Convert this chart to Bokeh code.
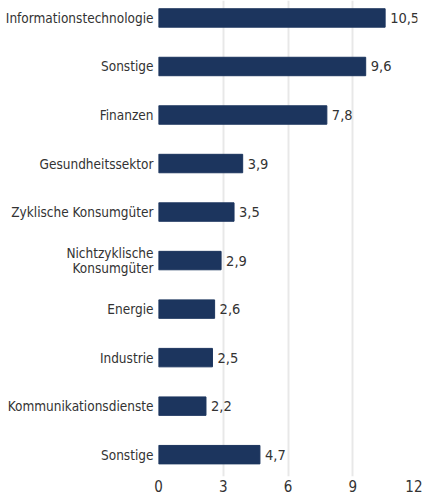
from bokeh.plotting import figure
from bokeh.models import Range1d, FixedTicker, ColumnDataSource
from bokeh.embed import file_html
from bokeh.resources import INLINE
from bokeh.core.properties import value

categories = ["Informationstechnologie", "Sonstige", "Finanzen", "Gesundheitssektor",
              "Zyklische Konsumgüter", "Nichtzyklische\nKonsumgüter", "Energie",
              "Industrie", "Kommunikationsdienste", "Sonstige"]
values = [10.5, 9.6, 7.8, 3.9, 3.5, 2.9, 2.6, 2.5, 2.2, 4.7]
x_ticks = [0, 3, 6, 9, 12]

FONT = "DejaVu Sans Condensed"
BAR = "#1c355e"
TXT = "#333333"

pos = list(range(len(categories)))
labels = [f"{v:.1f}".replace(".", ",") for v in values]
src = ColumnDataSource(dict(y=pos, v=values, lab=labels))

p = figure(width=422, height=502, output_backend="svg", toolbar_location=None,
           x_range=Range1d(0, 12), y_range=Range1d(9.45, -0.36),
           min_border_left=158, min_border_right=5, min_border_top=0, min_border_bottom=26)

p.hbar(y="y", right="v", left=0, height=0.38, source=src, color=BAR)
p.text(x="v", y="y", text="lab", source=src, x_offset=5, text_baseline="middle",
       text_align="left", text_font=value(FONT), text_font_size="14.5px", text_color=TXT)

p.outline_line_color = None
p.ygrid.grid_line_color = None
p.xgrid.grid_line_color = "#e8e8e8"
p.xgrid.grid_line_width = 2
p.xaxis.ticker = FixedTicker(ticks=x_ticks)
p.yaxis.ticker = FixedTicker(ticks=pos)
p.yaxis.major_label_overrides = {i: c for i, c in zip(pos, categories)}
for ax in (p.xaxis, p.yaxis):
    ax.axis_line_color = None
    ax.major_tick_line_color = None
    ax.minor_tick_line_color = None
    ax.major_tick_out = 0
    ax.major_tick_in = 0
    ax.major_label_text_font = FONT
    ax.major_label_text_color = TXT
    ax.major_label_text_line_height = 0.9
p.yaxis.major_label_text_font_size = "13.5px"
p.xaxis.major_label_text_font_size = "15px"
p.xaxis.major_label_standoff = 3
p.yaxis.major_label_standoff = 5

open("out.html", "w").write(file_html(p, INLINE))
